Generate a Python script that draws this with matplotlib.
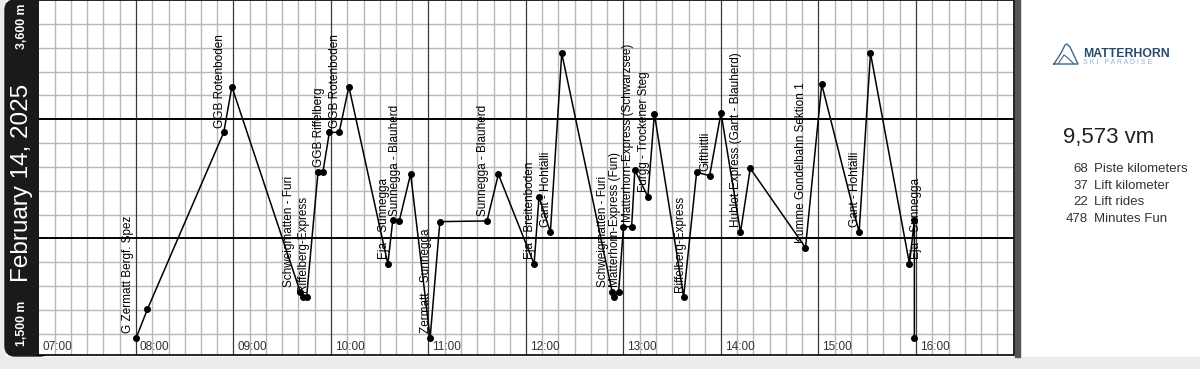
import matplotlib
matplotlib.use("Agg")
import matplotlib.pyplot as plt
from matplotlib.patches import Rectangle, FancyBboxPatch
from matplotlib.lines import Line2D

plt.rcParams['font.family'] = ['Liberation Sans', 'DejaVu Sans']

# --- data ---
day_label = "February 14, 2025"
times = ["08:00", "08:07", "08:54", "08:59", "09:41", "09:43", "09:45", "09:52",
         "09:55", "09:59", "10:05", "10:11", "10:35", "10:38", "10:42", "10:49",
         "11:01", "11:07", "11:36", "11:43", "12:05", "12:08", "12:15", "12:22",
         "12:53", "12:54", "12:57", "13:00", "13:05", "13:07", "13:15", "13:19",
         "13:37", "13:45", "13:53", "14:00", "14:12", "14:18", "14:52", "15:02",
         "15:25", "15:32", "15:56", "15:59", "15:59"]
elevation = [1599, 1770, 2817, 3087, 1875, 1845, 1845, 2581,
             2581, 2817, 2817, 3087, 2038, 2297, 2293, 2571,
             1599, 2289, 2293, 2569, 2038, 2436, 2226, 3285,
             1875, 1845, 1875, 2259, 2259, 2594, 2436, 2927,
             1845, 2581, 2561, 2933, 2226, 2604, 2135, 3101,
             2226, 3285, 2038, 2299, 1603]

# lift name -> index of the point where the ride starts
lift_points = [0, 2, 4, 6, 8, 10, 12, 14, 16, 18, 20, 22,
               24, 26, 28, 30, 32, 34, 36, 38, 40, 42]
lift_names = ["G Zermatt Bergf. Spez", "GGB Rotenboden", "Schweigmatten - Furi",
              "Riffelberg-Express", "GGB Riffelberg", "GGB Rotenboden",
              "Eja - Sunnegga", "Sunnegga - Blauherd", "Zermatt - Sunnegga",
              "Sunnegga - Blauherd", "Eja - Breitenboden", "Gant - Hohtälli",
              "Schweigmatten - Furi", "Matterhorn-Express (Fun)",
              "Matterhorn-Express (Schwarzsee)", "Furgg - Trockener Steg",
              "Riffelberg-Express", "Gifthittli", "Hublot-Express (Gant - Blauherd)",
              "Kumme Gondelbahn Sektion 1", "Gant - Hohtälli", "Eja - Sunnegga"]

total_vm = 9573
stat_values = [68, 37, 22, 478]
stat_labels = ["Piste kilometers", "Lift kilometer", "Lift rides", "Minutes Fun"]

y_min, y_max = 1500, 3600
t_start, t_end = 7, 17


def to_hours(s):
    h, m = s.split(":")
    return int(h) + int(m) / 60


hours = [to_hours(t) for t in times]

W, H = 1200, 369
fig = plt.figure(figsize=(W / 100, H / 100), dpi=100)
fig.patch.set_facecolor("white")


def fx(px):
    return px / W


def fy(py):
    return 1 - py / H


# page background strips
fig.add_artist(Rectangle((0, 0), 1, 12 / H, transform=fig.transFigure,
                         color="#ececec", zorder=0))
fig.add_artist(Rectangle((0, 0), 5 / W, 1, transform=fig.transFigure,
                         color="#ececec", zorder=0))
# dark date band, rounded on the left (right corners hide behind the axes)
band = FancyBboxPatch((0.05, 0.13), 0.45, 3.56,
                      boxstyle="round,pad=0,rounding_size=0.1",
                      transform=fig.dpi_scale_trans, color="#1a1a1a", zorder=1)
fig.add_artist(band)
# right divider bar
fig.add_artist(Rectangle((fx(1015), 12 / H), 5 / W, 1, transform=fig.transFigure,
                         color="#555555", zorder=1))

ax = fig.add_axes([fx(38.5), 14 / H, 975 / W, 355 / H])
ax.set_zorder(2)
ax.set_facecolor("white")
ax.set_xlim(t_start, t_end)
ax.set_ylim(y_min, y_max)
ax.set_xticks([])
ax.set_yticks([])
for side in ["top", "bottom", "right"]:
    ax.spines[side].set_color("black")
    ax.spines[side].set_linewidth(1.2)
ax.spines["left"].set_visible(False)

# grid: 10 minute verticals, darker on the hour
for m in range(10, (t_end - t_start) * 60, 10):
    x = t_start + m / 60
    if m % 60 == 0:
        ax.axvline(x, color="#3a3a3a", lw=0.9, zorder=1)
    else:
        ax.axvline(x, color="#b8b8b8", lw=1.0, zorder=0.5)
step = 141
for k in range(1, 15):
    y = y_max - k * step
    if k % 5 == 0:
        ax.axhline(y, color="black", lw=1.4, zorder=1)
    else:
        ax.axhline(y, color="#b8b8b8", lw=1.0, zorder=0.5)

# hour labels
for h in range(t_start, t_end):
    ax.annotate(f"{h:02d}:00", xy=(h, y_min), xytext=(2.6, 3.8),
                textcoords="offset points", ha="left", va="baseline",
                fontsize=8.5, color="#333333", zorder=3)

# the day's track
ax.plot(hours, elevation, color="black", lw=1.1, marker="o", ms=4,
        zorder=4, clip_on=False)

# lift labels
label_dx = {0: -8, 2: -11, 12: -9.5, 21: 7}
for i, (p, name) in enumerate(zip(lift_points, lift_names)):
    dx = label_dx.get(i, -4)
    ax.annotate(name, xy=(hours[p], elevation[p]), xytext=(dx * 0.72, 3.5),
                textcoords="offset points", rotation=90, ha="center",
                va="bottom", fontsize=8.5, color="black", zorder=5)

# date band texts
fig.text(fx(22), fy(183), day_label, rotation=90, color="white",
         fontsize=17.5, ha="center", va="center", zorder=3)
fig.text(fx(22), fy(4), f"{y_max:,} m", rotation=90, color="white",
         fontsize=8.8, fontweight="bold", ha="center", va="top", zorder=3)
fig.text(fx(22), fy(346), f"{y_min:,} m", rotation=90, color="white",
         fontsize=8.8, fontweight="bold", ha="center", va="bottom", zorder=3)

# logo
icon_x = [1054, 1061, 1065, 1067, 1070, 1078, 1054]
icon_y = [64, 53, 45, 44, 47, 64, 64]
fig.add_artist(Line2D([fx(v) for v in icon_x], [fy(v) for v in icon_y],
                      transform=fig.transFigure, color="#3d6a8c", lw=1.0))
fig.add_artist(Line2D([fx(v) for v in [1058, 1064, 1068, 1074]],
                      [fy(v) for v in [64, 55, 58, 64]],
                      transform=fig.transFigure, color="#3d6a8c", lw=0.8))
fig.text(fx(1083), fy(57), "MATTERHORN", fontsize=8.8, fontweight="bold",
         color="#2d4b69", ha="left", va="baseline")
fig.text(fx(1083), fy(63.5), " ".join("SKI PARADISE"), fontsize=5,
         color="#8ab4d4", ha="left", va="baseline")

# stats
fig.text(fx(1063), fy(143), f"{total_vm:,} vm", fontsize=16, color="#222222",
         ha="left", va="baseline")
for i, (v, lab) in enumerate(zip(stat_values, stat_labels)):
    yb = 172 + i * 16.7
    fig.text(fx(1088), fy(yb), str(v), fontsize=9.5, color="#333333",
             ha="right", va="baseline")
    fig.text(fx(1094), fy(yb), lab, fontsize=9.5, color="#333333",
             ha="left", va="baseline")

fig.savefig("out.png", dpi=100, facecolor=fig.get_facecolor())
